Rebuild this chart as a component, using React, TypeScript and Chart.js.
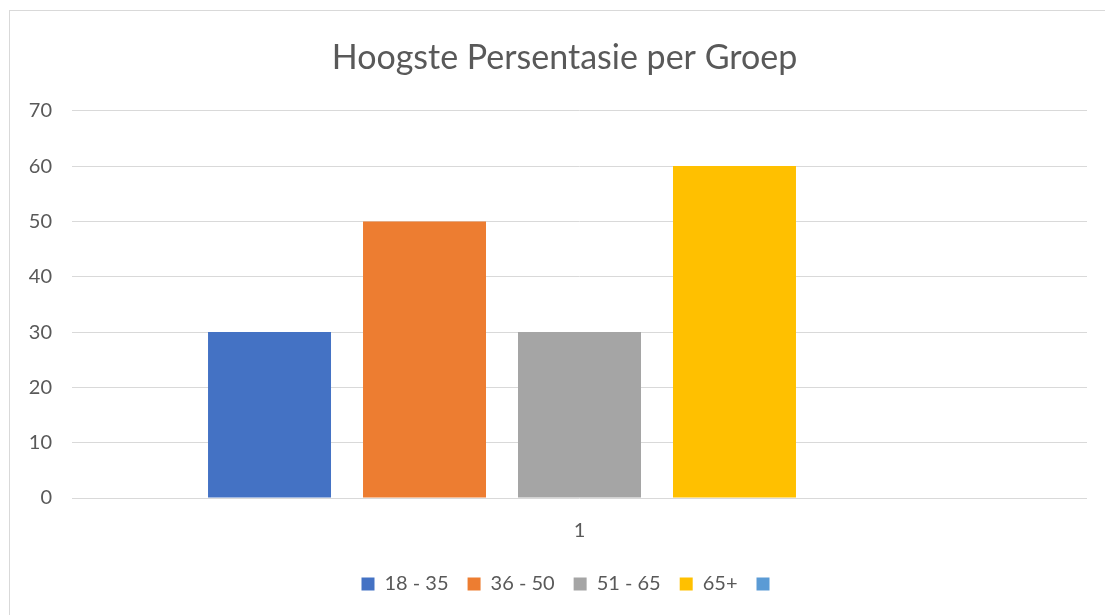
import React, { useEffect, useRef } from "react";
import { Chart, registerables } from "chart.js";

Chart.register(...registerables);

const categories = ["1"];
const seriesLabels = ["18 - 35", "36 - 50", "51 - 65", "65+", ""];
const group18to35 = [30];
const group36to50 = [50];
const group51to65 = [30];
const group65plus = [60];
const groupEmpty: (number | null)[] = [null];
const seriesColors = ["#4472C4", "#ED7D31", "#A5A5A5", "#FFC000", "#5B9BD5"];
const yTicks = [0, 10, 20, 30, 40, 50, 60, 70];

const FONT = "Lato, 'Open Sans', sans-serif";
const TEXT = "#595959";

const boxShift = {
  id: "boxShift",
  afterLayout(chart: any) {
    const lg = chart.legend;
    if (lg) {
      lg.left += 27;
      lg.right += 27;
    }
    const tt = chart.titleBlock;
    if (tt) {
      tt.left += 21;
      tt.right += 21;
    }
  },
};

export default function App() {
  const ref = useRef<HTMLCanvasElement | null>(null);
  useEffect(() => {
    if (!ref.current) return;
    const values = [group18to35, group36to50, group51to65, group65plus, groupEmpty];
    const chart = new Chart(ref.current, {
      type: "bar",
      data: {
        labels: categories,
        datasets: values.map((v, i) => ({
          label: seriesLabels[i],
          data: v,
          backgroundColor: seriesColors[i],
          borderWidth: 0,
          categoryPercentage: 0.7635,
          barPercentage: 0.7935,
        })),
      },
      plugins: [boxShift],
      options: {
        animation: false,
        responsive: false,
        layout: { padding: { left: 0, right: 18, top: 0, bottom: 11 } },
        plugins: {
          tooltip: { enabled: false },
          title: {
            display: true,
            text: "Hoogste Persentasie per Groep",
            color: TEXT,
            font: { family: FONT, size: 34, weight: "normal", lineHeight: 1.2 },
            padding: { top: 38, bottom: 32 },
          },
          legend: {
            position: "bottom",
            labels: {
              color: TEXT,
              font: { family: FONT, size: 20 },
              boxWidth: 13,
              boxHeight: 13,
              padding: 19,
            },
          },
        },
        scales: {
          x: {
            grid: { display: false, drawTicks: false },
            border: { display: false },
            ticks: { color: TEXT, font: { family: FONT, size: 20 }, padding: 21 },
            afterFit: (s: any) => {
              s.height = 57;
            },
          },
          y: {
            min: 0,
            max: 70,
            afterBuildTicks: (s: any) => {
              s.ticks = yTicks.map((v) => ({ value: v }));
            },
            grid: { color: "#D9D9D9", lineWidth: 1, drawTicks: false },
            border: { display: false },
            ticks: { color: TEXT, font: { family: FONT, size: 20 }, padding: 20 },
            afterFit: (s: any) => {
              s.width = 72;
            },
          },
        },
      },
    });
    return () => chart.destroy();
  }, []);
  return (
    <div style={{ position: "absolute", left: 0, top: 0, width: 1105, height: 615, overflow: "hidden", background: "#fff" }}>
      <div
        style={{
          position: "absolute",
          left: 9,
          top: 10,
          width: 1110,
          height: 620,
          border: "1px solid #D9D9D9",
        }}
      />
      <canvas ref={ref} width={1105} height={615} style={{ position: "absolute", left: 0, top: 0 }} />
    </div>
  );
}
